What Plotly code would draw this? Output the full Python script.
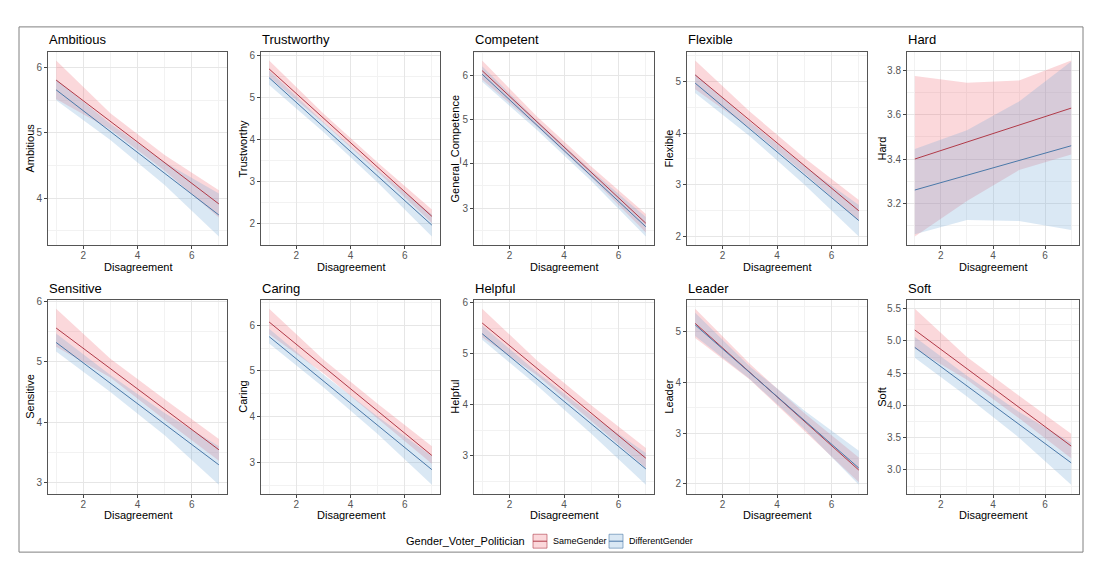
import plotly.graph_objects as go

# the page body adds an 8px margin, so the figure is drawn 8px smaller and all
# reference pixel positions are shifted by that margin
OFF = 8
W, H = 1104 - OFF, 568 - OFF

# ---------------- data ----------------
traits = ["Ambitious", "Trustworthy", "Competent", "Flexible", "Hard",
          "Sensitive", "Caring", "Helpful", "Leader", "Soft"]
y_titles = ["Ambitious", "Trustworthy", "General_Competence", "Flexible", "Hard",
            "Sensitive", "Caring", "Helpful", "Leader", "Soft"]
x_label = "Disagreement"
groups = ["SameGender", "DifferentGender"]
legend_title = "Gender_Voter_Politician"

x_line = [1, 7]
x_band = [1, 3, 5, 7]

same_line = [[5.81, 3.91], [5.68, 2.18], [6.10, 2.66], [5.13, 2.49], [3.40, 3.63],
             [5.56, 3.54], [6.07, 3.15], [5.60, 2.95], [5.17, 2.27], [5.17, 3.37]]
diff_line = [[5.66, 3.74], [5.47, 1.97], [6.02, 2.58], [4.97, 2.30], [3.26, 3.46],
             [5.32, 3.29], [5.75, 2.84], [5.39, 2.74], [5.14, 2.31], [4.90, 3.11]]

same_lo = [[5.52, 5.05, 4.42, 3.70], [5.48, 4.40, 3.24, 2.02], [5.90, 4.84, 3.69, 2.45],
           [4.85, 4.10, 3.22, 2.30], [3.05, 3.21, 3.35, 3.42], [5.25, 4.74, 4.04, 3.36],
           [5.80, 4.95, 3.96, 2.97], [5.32, 4.58, 3.68, 2.76], [4.88, 4.06, 3.05, 2.03],
           [4.88, 4.40, 3.80, 3.18]]
same_hi = [[6.11, 5.30, 4.66, 4.12], [5.88, 4.62, 3.46, 2.34], [6.33, 5.07, 3.94, 2.87],
           [5.41, 4.42, 3.52, 2.70], [3.775, 3.745, 3.755, 3.845], [5.88, 5.05, 4.38, 3.72],
           [6.36, 5.25, 4.28, 3.35], [5.88, 4.87, 3.99, 3.15], [5.46, 4.37, 3.40, 2.52],
           [5.50, 4.75, 4.15, 3.56]]
diff_lo = [[5.50, 4.89, 4.20, 3.41], [5.30, 4.18, 2.98, 1.70], [5.85, 4.77, 3.61, 2.36],
           [4.78, 3.94, 3.00, 1.99], [3.06, 3.125, 3.12, 3.08], [5.17, 4.50, 3.78, 2.96],
           [5.60, 4.64, 3.62, 2.51], [5.27, 4.38, 3.43, 2.43], [4.92, 4.07, 3.08, 1.98],
           [4.74, 4.14, 3.50, 2.77]]
diff_hi = [[5.82, 5.14, 4.55, 4.07], [5.64, 4.42, 3.28, 2.22], [6.20, 4.98, 3.85, 2.80],
           [5.15, 4.22, 3.36, 2.60], [3.445, 3.53, 3.66, 3.84], [5.47, 4.78, 4.15, 3.60],
           [5.92, 4.92, 4.00, 3.14], [5.55, 4.64, 3.80, 3.05], [5.38, 4.32, 3.45, 2.65],
           [5.06, 4.46, 3.90, 3.42]]

x_ticks = [2, 4, 6]
y_dtick = [1, 1, 1, 1, 0.2, 1, 1, 1, 1, 0.5]
y_fmt = ["d", "d", "d", "d", ".1f", "d", "d", "d", "d", ".1f"]

# ---------------- styling ----------------
RED_LINE = "#B03A48"
BLUE_LINE = "#4A78A8"
RED_FILL = "rgba(240,100,110,0.25)"
BLUE_FILL = "rgba(120,170,215,0.27)"
FONT = "Liberation Sans, Arial, sans-serif"

col_px = [(48, 227), (261, 440), (474, 654), (687, 867), (907, 1079)]
row_px = [(48, 243), (298, 493)]
ytitle_px = [30, 243, 455, 669, 882]


def px(x):
    return (x - OFF) / W


def py(y):
    return 1 - (y - OFF) / H


fig = go.Figure()
annotations = []
shapes = []

for i, trait in enumerate(traits):
    r, c = divmod(i, 5)
    sfx = "" if i == 0 else str(i + 1)
    xa, ya = "x" + sfx, "y" + sfx
    l, rr = col_px[c]
    t, b = row_px[r]

    # ribbons
    for lo, hi, fill in ((same_lo[i], same_hi[i], RED_FILL), (diff_lo[i], diff_hi[i], BLUE_FILL)):
        fig.add_trace(go.Scatter(
            x=x_band + x_band[::-1], y=hi + lo[::-1], fill="toself", fillcolor=fill,
            line=dict(width=0), mode="lines", hoverinfo="skip", showlegend=False,
            xaxis=xa, yaxis=ya))
    # lines
    for yl, col, name in ((same_line[i], RED_LINE, groups[0]), (diff_line[i], BLUE_LINE, groups[1])):
        fig.add_trace(go.Scatter(
            x=x_line, y=yl, mode="lines", line=dict(color=col, width=1),
            name=name, showlegend=False, xaxis=xa, yaxis=ya))

    all_vals = same_lo[i] + same_hi[i] + diff_lo[i] + diff_hi[i]
    vmin, vmax = min(all_vals), max(all_vals)
    pad = 0.05 * (vmax - vmin)

    common = dict(showline=True, mirror=True, linecolor="#555555", linewidth=1,
                  ticks="outside", ticklen=3, tickwidth=1, tickcolor="#444444",
                  tickfont=dict(family=FONT, size=10, color="#555555"),
                  showgrid=True, gridcolor="#E6E6E6", gridwidth=1, zeroline=False)

    fig.layout["xaxis" + sfx] = dict(
        domain=[px(l), px(rr)], anchor=ya, range=[0.7, 7.3],
        tickmode="array", tickvals=x_ticks, ticklabelstandoff=-2,
        minor=dict(dtick=1, tick0=0, showgrid=True, gridcolor="#F2F2F2", gridwidth=1),
        **common)
    fig.layout["yaxis" + sfx] = dict(
        domain=[py(b), py(t)], anchor=xa, range=[vmin - pad, vmax + pad],
        dtick=y_dtick[i], tick0=0, tickformat=y_fmt[i],
        minor=dict(dtick=y_dtick[i] / 2, tick0=0, showgrid=True, gridcolor="#F2F2F2", gridwidth=1),
        **common)

    # panel title
    annotations.append(dict(text=trait, xref="paper", yref="paper", x=px(l - 1), y=py(t - 12),
                            xanchor="left", yanchor="middle", showarrow=False,
                            font=dict(family=FONT, size=13, color="#000000")))
    # x title
    annotations.append(dict(text=x_label, xref="paper", yref="paper", x=px((l + rr) / 2), y=py(b + 22),
                            xanchor="center", yanchor="middle", showarrow=False,
                            font=dict(family=FONT, size=11, color="#000000")))
    # y title
    annotations.append(dict(text=y_titles[i], xref="paper", yref="paper", x=px(ytitle_px[c]),
                            y=py((t + b) / 2), xanchor="center", yanchor="middle", textangle=-90,
                            showarrow=False, font=dict(family=FONT, size=11, color="#000000")))

# outer border
shapes.append(dict(type="rect", xref="paper", yref="paper", x0=px(19), x1=px(1083), y0=py(552), y1=py(23),
                   line=dict(color="#808080", width=1), fillcolor="rgba(0,0,0,0)"))

# legend
ly = 541
annotations.append(dict(text=legend_title, xref="paper", yref="paper", x=px(527), y=py(ly),
                        xanchor="right", yanchor="middle", showarrow=False,
                        font=dict(family=FONT, size=11, color="#000000")))
for (x0, x1), fill, col, lab in (((533, 547), RED_FILL, RED_LINE, groups[0]),
                                 ((609, 623), BLUE_FILL, BLUE_LINE, groups[1])):
    shapes.append(dict(type="rect", xref="paper", yref="paper", x0=px(x0), x1=px(x1),
                       y0=py(ly + 7), y1=py(ly - 7), fillcolor=fill,
                       line=dict(color=col, width=0.6)))
    shapes.append(dict(type="line", xref="paper", yref="paper", x0=px(x0), x1=px(x1),
                       y0=py(ly), y1=py(ly), line=dict(color=col, width=1)))
    annotations.append(dict(text=lab, xref="paper", yref="paper", x=px(x1 + 4), y=py(ly),
                            xanchor="left", yanchor="middle", showarrow=False,
                            font=dict(family=FONT, size=9, color="#000000")))

fig.update_layout(width=W, height=H, margin=dict(l=0, r=0, t=0, b=0),
                  paper_bgcolor="white", plot_bgcolor="white", showlegend=False,
                  annotations=annotations, shapes=shapes)

fig.write_html("out.html")
